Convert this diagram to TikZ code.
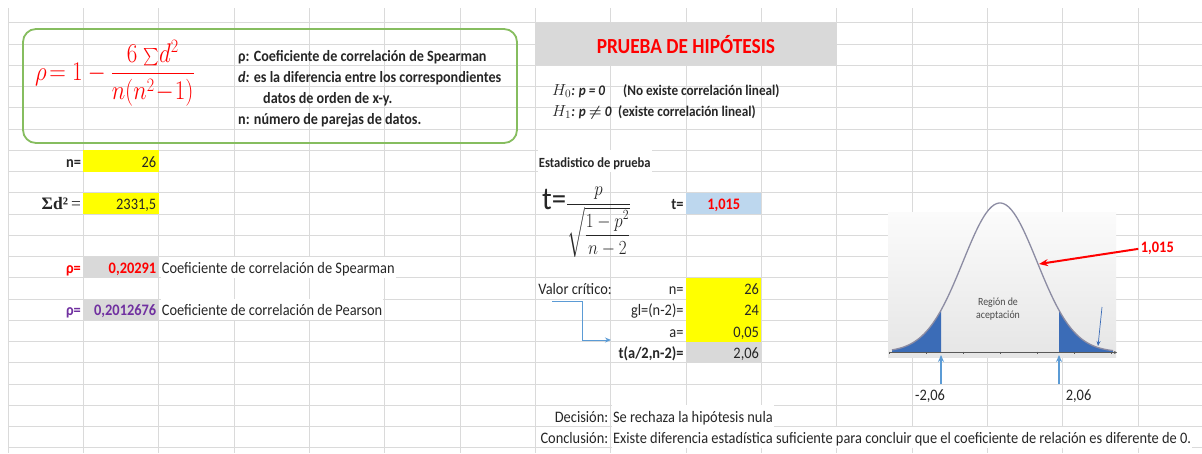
\RequirePackage{fix-cm}
\documentclass[tikz,border=0pt]{standalone}
\usepackage{amsmath}
\usepackage{fontspec}
\setmainfont{Carlito}[FakeStretch=0.9]
\newfontfamily\tnr{Liberation Serif}
\usepackage{graphicx}
\usetikzlibrary{arrows.meta,calc}

\definecolor{gridgray}{HTML}{DADADA}
\definecolor{ink}{HTML}{262626}
\definecolor{boxgreen}{HTML}{86BD5F}
\definecolor{cellyellow}{HTML}{FFFF00}
\definecolor{cellgray}{HTML}{D9D9D9}
\definecolor{cellblue}{HTML}{BDD7EE}
\definecolor{xlred}{HTML}{FF0000}
\definecolor{xlpurple}{HTML}{7030A0}
\definecolor{arrowblue}{HTML}{5B9BD5}
\definecolor{tailblue}{HTML}{3B6CB7}
\definecolor{curvegray}{HTML}{8C8CA3}
\definecolor{regtext}{HTML}{4A4A4A}

\newcommand{\cellfont}{\fontsize{16}{19}\selectfont}
\newcommand{\notefont}{\fontsize{14}{17}\selectfont}

\begin{document}
\begin{tikzpicture}[x=1pt, y=-1pt, >=Stealth,
  cell/.style={inner xsep=2.4pt, inner ysep=0pt, text height=16.75pt, text depth=4.5pt,
    font=\cellfont, text=ink},
  rcell/.style={cell, text width=70.5pt, align=right},
  ccell/.style={cell, text width=70.5pt, align=center},
  spill/.style={cell, anchor=west, fill=white, inner xsep=1.2pt},
  boxtxt/.style={anchor=base west, inner sep=0pt, font=\fontsize{15.7}{18}\selectfont\bfseries, text=ink},
  hyp/.style={anchor=base west, inner sep=0pt, font=\fontsize{14.7}{17}\selectfont\bfseries, text=ink}
]
  \useasboundingbox (0,0) rectangle (1202,453);
  \fill[white] (0,0) rectangle (1202,453);

  % sheet grid
  \foreach \k in {0,...,15}
    \draw[gridgray, line width=0.9pt] ({8+75.333*\k},8) -- ({8+75.333*\k},453);
  \foreach \r in {1,...,21}
    \draw[gridgray, line width=0.9pt] (8,{1.5+21.25*\r}) -- (1202,{1.5+21.25*\r});

  % Spearman formula box
  \draw[boxgreen, line width=1.8pt, rounded corners=13pt] (23,29) rectangle (517,143);
  \node[anchor=west, inner sep=0pt, text=xlred] (spear) at (35,73)
    {\fontsize{27}{27}\selectfont\scalebox{0.85}[1]{$\rho\!=1-\dfrac{6\;{\scriptstyle\sum}d^2}{n(n^2\!-\!1)}$}};
  \node[boxtxt] (bx1) at (238,61) {ρ: Coeficiente de correlación de Spearman};
  \node[boxtxt] (bx2) at (238,82) {\textit{d:} es la diferencia entre los correspondientes};
  \node[boxtxt] (bx3) at (263,103) {datos de orden de x-y.};
  \node[boxtxt] (bx4) at (238,124) {n: número de parejas de datos.};

  % input data and results
  \node[rcell, font=\cellfont\bfseries] (nlbl) at (45.67,160.875) {n=};
  \node[rcell, fill=cellyellow] (nval) at (121,160.875) {26};
  \node[rcell, font=\fontsize{17.5}{20}\tnr] (sumlbl) at (45.67,203.375) {\bfseries Σd²\,\mdseries=};
  \node[rcell, fill=cellyellow] (sumval) at (121,203.375) {2331,5};
  \node[rcell, font=\cellfont\bfseries, text=xlred] (rholbl) at (45.67,267.125) {ρ=};
  \node[rcell, fill=cellgray, font=\cellfont\bfseries, text=xlred] (rhoval) at (121,267.125) {0,20291};
  \node[spill] (rhotxt) at (160.5,267.125) {Coeficiente de correlación de Spearman};
  \node[rcell, font=\cellfont\bfseries, text=xlpurple] (prlbl) at (45.67,309.625) {ρ=};
  \node[rcell, fill=cellgray, font=\cellfont\bfseries, text=xlpurple] (prval) at (121,309.625) {0,2012676};
  \node[spill] (prtxt) at (160.5,309.625) {Coeficiente de correlación de Pearson};

  % hypothesis test
  \fill[cellgray] (535.3,22.75) rectangle (836.7,65.25);
  \node[font=\fontsize{21.5}{24}\selectfont\bfseries, text=xlred] (title) at (686,44.5) {PRUEBA DE HIPÓTESIS};
  \node[hyp] (h0) at (552,95) {\mdseries\fontsize{16}{17}\selectfont$H_0$\fontsize{14.7}{17}\selectfont\bfseries\itshape: p = 0};
  \node[hyp] (h0txt) at (623,95) {(No existe correlación lineal)};
  \node[hyp] (h1) at (552,116) {\mdseries\fontsize{16}{17}\selectfont$H_1$\fontsize{14.7}{17}\selectfont\bfseries\itshape: p $\boldsymbol{\neq}$ 0};
  \node[hyp] (h1txt) at (618,116) {(existe correlación lineal)};

  \node[spill, font=\notefont\bfseries] (estad) at (537.5,160.875) {Estadistico de prueba};
  \node[anchor=base west, inner sep=0pt, text=ink] (tform) at (542,209)
    {\fontsize{32}{32}\selectfont t=\fontsize{20}{20}\selectfont\scalebox{0.85}[1]{$\dfrac{p}{\sqrt{\dfrac{1-p^2}{n-2}}}$}};
  \node[rcell, font=\cellfont\bfseries] (tlbl) at (648.3,203.375) {t=};
  \node[ccell, fill=cellblue, font=\cellfont\bfseries, text=xlred] (tval) at (723.7,203.375) {1,015};

  \node[cell, anchor=west] (vc) at (535.8,288.375) {Valor crítico:};
  \node[rcell] (nlbl2) at (648.3,288.375) {n=};
  \node[rcell, fill=cellyellow] (nval2) at (723.7,288.375) {26};
  \node[rcell] (gllbl) at (648.3,309.625) {gl=(n-2)=};
  \node[rcell, fill=cellyellow] (glval) at (723.7,309.625) {24};
  \node[rcell] (albl) at (648.3,330.875) {a=};
  \node[rcell, fill=cellyellow] (aval) at (723.7,330.875) {0,05};
  \node[rcell] (pct) at (874.3,330.875) {5\%};
  \node[rcell, font=\cellfont\bfseries] (tclbl) at (648.3,352.125) {t(a/2,n-2)=};
  \node[rcell, fill=cellgray] (tcval) at (723.7,352.125) {2,06};

  \coordinate (vcfrom) at (552,301);
  \coordinate (vcto) at (611,340);
  \draw[arrowblue, line width=1pt, -{Stealth[length=6pt, width=5pt]}] (vcfrom) -- ++(30,0) |- (vcto);

  % t distribution picture
  \shade[top color=gray!3, bottom color=gray!20] (888,212) rectangle (1116,357);
  \fill[tailblue] (892,352) -- plot[domain=892:941, samples=30, smooth]
    (\x,{352-149*exp(-((\x-1000)/37)^2/2)}) -- (941,352) -- cycle;
  \fill[tailblue] (1059,352) -- plot[domain=1059:1113, samples=30, smooth]
    (\x,{352-149*exp(-((\x-1000)/37)^2/2)}) -- (1113,352) -- cycle;
  \draw[curvegray, line width=1.3pt] plot[domain=892:1113, samples=90, smooth]
    (\x,{352-149*exp(-((\x-1000)/37)^2/2)});
  \draw[gray!70!black, line width=0.7pt, -{Stealth[length=3pt, width=3pt]}] (890,352.5) -- (1117,352.5);
  \foreach \t in {-3,...,3}
    \draw[gray!70!black, line width=0.5pt] ({1000+37*\t},351.5) -- ++(0,2.5);
  \node[font=\fontsize{11}{13.5}\selectfont, text=regtext, align=center] (region) at (998,309) {Región de\\aceptación};
  \coordinate (tailtop) at (1102,307);
  \coordinate (tailend) at (1098,346);
  \draw[tailblue, line width=0.7pt, -{Stealth[length=5pt, width=4pt]}] (tailtop) -- (tailend);

  \node[cell, anchor=west, font=\cellfont\bfseries, text=xlred] (obs) at (1138.3,245.875) {1,015};
  \coordinate (hit) at (1039,264);
  \draw[xlred, line width=2pt, -{Stealth[length=9pt, width=7pt]}] ([yshift=-3pt]obs.west) -- (hit);

  \node[cell, anchor=west] (lowlbl) at (912.5,394.625) {-2,06};
  \node[cell, anchor=west] (uplbl) at (1063.2,394.625) {2,06};
  \coordinate (lowfoot) at (941,384);
  \coordinate (lowcut) at (941,355);
  \coordinate (upfoot) at (1059,384);
  \coordinate (upcut) at (1059,355);
  \draw[arrowblue, line width=1.5pt, -{Stealth[length=7pt, width=6pt]}] (lowfoot) -- (lowcut);
  \draw[arrowblue, line width=1.5pt, -{Stealth[length=7pt, width=6pt]}] (upfoot) -- (upcut);

  % decision
  \node[rcell] (declbl) at (573,415.875) {Decisión:};
  \node[spill] (dectxt) at (611.7,415.875) {Se rechaza la hipótesis nula};
  \node[rcell] (conlbl) at (573,437.125) {Conclusión:};
  \node[spill] (contxt) at (611.7,437.125) {Existe diferencia estadística suficiente para concluir que el coeficiente de relación es diferente de 0.};
\end{tikzpicture}
\end{document}
